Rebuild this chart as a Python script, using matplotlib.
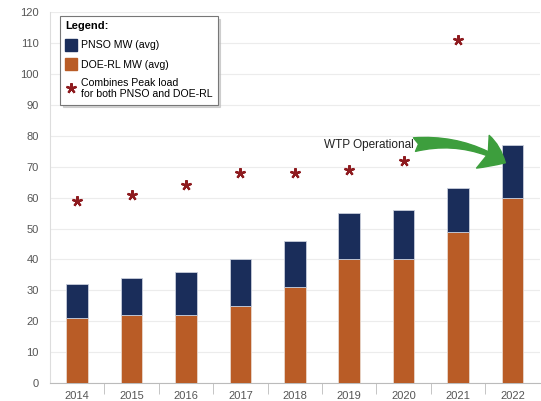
import matplotlib
matplotlib.use("Agg")
import matplotlib.pyplot as plt
from matplotlib.patches import Patch, FancyArrowPatch
from matplotlib.lines import Line2D
import numpy as np

years = ["2014", "2015", "2016", "2017", "2018", "2019", "2020", "2021", "2022"]
doe_rl = [21, 22, 22, 25, 31, 40, 40, 49, 60]
pnso = [11, 12, 14, 15, 15, 15, 16, 14, 17]
peak_years = ["2014", "2015", "2016", "2017", "2018", "2019", "2020", "2021"]
peak_load = [59, 61, 64, 68, 68, 69, 72, 111]

NAVY = "#1a2d5a"
ORANGE = "#b95c26"
STAR = "#8e1b1f"
GREEN = "#3d9e3d"
STAR_MARKER = (5, 2, 0)

plt.rcParams["font.family"] = ["Liberation Sans", "DejaVu Sans"]

fig = plt.figure(figsize=(5.41, 4.01), dpi=100)
ax = fig.add_axes([0.0924, 0.045, 0.905, 0.924])

x = np.arange(len(years))
ax.bar(x, doe_rl, width=0.4, color=ORANGE, edgecolor="#e9d7cc", linewidth=0.6, zorder=3)
ax.bar(x, pnso, width=0.4, bottom=doe_rl, color=NAVY, edgecolor="#c8cedb", linewidth=0.6, zorder=3)

px = [years.index(y) for y in peak_years]
ax.plot(px, peak_load, linestyle="none", marker=STAR_MARKER, markersize=7.5,
        markeredgewidth=1.6, color=STAR, zorder=4)

ax.set_xlim(-0.5, len(years) - 0.5)
ax.set_ylim(0, 120)
ax.set_yticks(range(0, 121, 10))
ax.set_xticks(x)
ax.set_xticklabels(years)
ax.set_xticks(np.arange(0.5, len(years) - 0.5, 1), minor=True)
ax.tick_params(axis="x", which="major", length=0, pad=6, labelsize=8, labelcolor="#555555")
ax.tick_params(axis="x", which="minor", length=8, width=0.6, color="#bbbbbb")
ax.tick_params(axis="y", length=0, pad=8, labelsize=8, labelcolor="#555555")
ax.grid(axis="y", color="#ececec", linewidth=0.8, zorder=0)
for s in ["top", "right"]:
    ax.spines[s].set_visible(False)
ax.spines["left"].set_color("#dddddd")
ax.spines["bottom"].set_color("#bbbbbb")

handles = [
    Patch(facecolor=NAVY, edgecolor=NAVY),
    Patch(facecolor=ORANGE, edgecolor=ORANGE),
    Line2D([], [], linestyle="none", marker=STAR_MARKER, markersize=7.5, markeredgewidth=1.6, color=STAR),
]
labels = ["PNSO MW (avg)", "DOE-RL MW (avg)", "Combines Peak load\nfor both PNSO and DOE-RL"]
leg = ax.legend(handles, labels, title="Legend:", loc="upper left",
                bbox_to_anchor=(0.01, 1.005), fontsize=7.6, title_fontsize=8,
                handlelength=1.1, handleheight=1.4, handletextpad=0.35,
                labelspacing=0.7, borderpad=0.5, frameon=True, fancybox=False,
                shadow={"color": "#bbbbbb", "alpha": 0.6}, alignment="left")
leg.get_title().set_fontweight("bold")
leg.get_frame().set_edgecolor("#777777")
leg.get_frame().set_linewidth(0.8)
leg.set_zorder(6)

ax.text(5.36, 77, "WTP Operational", ha="center", va="center", fontsize=8.5, color="#222222", zorder=5)
arrow = FancyArrowPatch((6.2, 77.2), (7.87, 71.3), connectionstyle="arc3,rad=-0.18",
                        arrowstyle="fancy,head_length=1.0,head_width=1.4,tail_width=0.55",
                        mutation_scale=18, color=GREEN, zorder=5, shrinkA=0, shrinkB=0)
ax.add_patch(arrow)

fig.savefig("out.png", dpi=100)
plt.close(fig)
